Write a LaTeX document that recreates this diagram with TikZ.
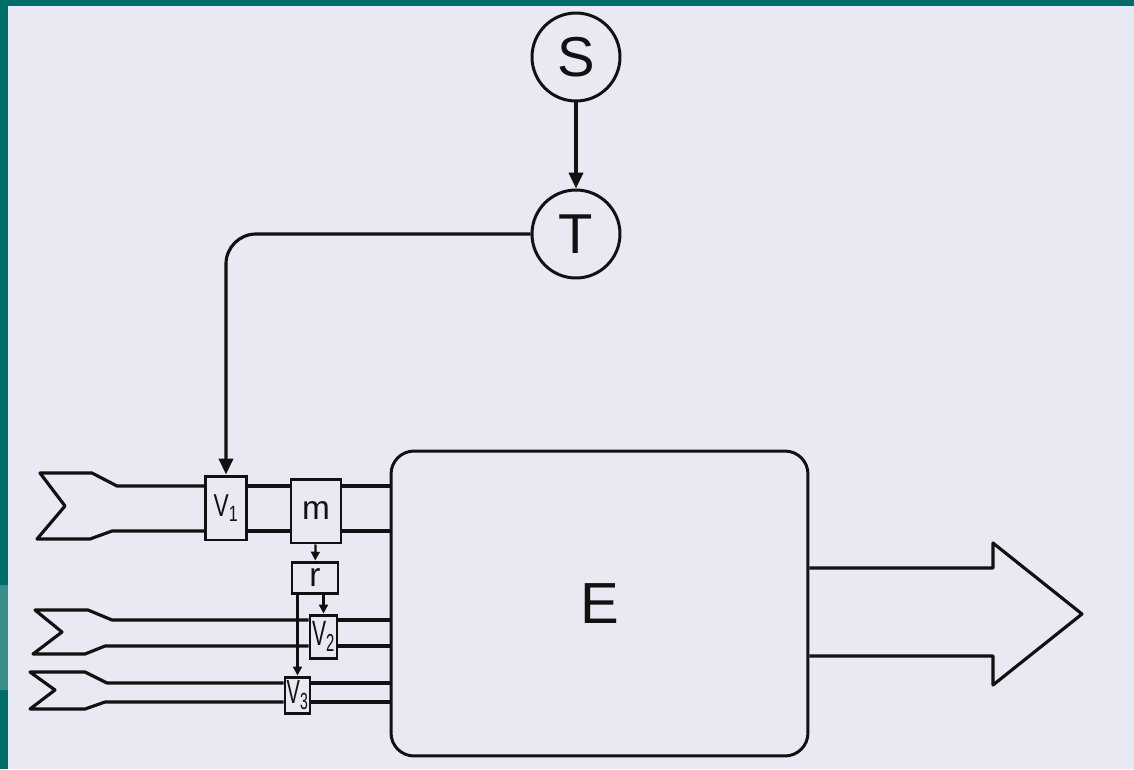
\documentclass[tikz,border=0pt]{standalone}
\usepackage{fontspec}
\setsansfont{Liberation Sans}
\usepackage{graphicx}
\usetikzlibrary{positioning,arrows.meta}

\definecolor{paper}{HTML}{E9E9F3}
\definecolor{frame}{HTML}{006D68}
\definecolor{framelight}{HTML}{3A8F88}
\definecolor{ink}{HTML}{111111}

\begin{document}
\begin{tikzpicture}[
    x=0.02cm, y=-0.02cm,
    font=\sffamily,
    color=ink,
    line width=1.7pt,
    unit/.style={
        draw,
        circle,
        minimum size=1.76cm,
        inner sep=0pt,
        font=\sffamily\fontsize{32}{36}\selectfont
    },
    box/.style={
        draw,
        fill=paper,
        inner sep=0pt
    },
    sig/.style={-{Triangle[length=9pt,width=8pt]}, line width=1.8pt},
    tick/.style={-{Triangle[length=5pt,width=5pt]}, line width=1.3pt},
    pipe/.style={line width=1.8pt, line join=round}
]

\fill[paper] (0,0) rectangle (1134,769);
\useasboundingbox (0,0) rectangle (1134,769);
\fill[frame] (0,0) rectangle (1134,6);
\fill[frame] (0,0) rectangle (8,769);
\fill[framelight] (0,585) rectangle (8,690);

\node[unit] (S) at (576,57) {S};
\node[unit] (T) at (576,234) {T};

\node[box, minimum width=0.82cm, minimum height=1.28cm, font=\sffamily\fontsize{18}{20}\selectfont] (V1) at (226,508) {\scalebox{0.72}[1]{V\textsubscript{1}}};
\node[box, minimum width=1.0cm, minimum height=1.28cm, font=\sffamily\fontsize{19}{22}\selectfont] (m) at (316,511) {m};
\node[box, minimum width=0.92cm, minimum height=0.62cm, font=\sffamily\fontsize{19}{22}\selectfont] (r) at (315,577.5) {r};
\node[box, minimum width=0.54cm, minimum height=0.86cm, font=\sffamily\fontsize{20}{22}\selectfont] (V2) at (323.5,636.5) {\scalebox{0.6}[1]{V\textsubscript{2}}};
\node[box, minimum width=0.5cm, minimum height=0.72cm, font=\sffamily\fontsize{19}{22}\selectfont] (V3) at (297.5,695) {\scalebox{0.6}[1]{V\textsubscript{3}}};

\node[draw, rounded corners=0.46cm, minimum width=8.34cm, minimum height=6.1cm, font=\sffamily\fontsize{33}{36}\selectfont] (E) at (599.5,603.5) {E};

\coordinate (a1) at (117,486);
\coordinate (b1) at (112,531);
\coordinate (a2) at (112,620);
\coordinate (b2) at (105,646);
\coordinate (a3) at (107,683);
\coordinate (b3) at (105,702);
\coordinate (o1) at (993,568);
\coordinate (o2) at (993,656);

\draw[pipe] (V1.west |- a1) -- (a1) -- (92,473) -- (40,473) -- (65,506) -- (37,539) -- (90,539) -- (b1) -- (V1.west |- b1);
\draw[pipe] (V1.east |- a1) -- (m.west |- a1);
\draw[pipe] (V1.east |- b1) -- (m.west |- b1);
\draw[pipe] (m.east |- a1) -- (E.west |- a1);
\draw[pipe] (m.east |- b1) -- (E.west |- b1);

\draw[pipe] (V2.west |- a2) -- (a2) -- (88,610) -- (35,610) -- (62,632) -- (33,654) -- (85,654) -- (b2) -- (V2.west |- b2);
\draw[pipe] (V2.east |- a2) -- (E.west |- a2);
\draw[pipe] (V2.east |- b2) -- (E.west |- b2);

\draw[pipe] (V3.west |- a3) -- (a3) -- (85,672) -- (30,672) -- (55,690) -- (30,709) -- (85,709) -- (b3) -- (V3.west |- b3);
\draw[pipe] (V3.east |- a3) -- (E.west |- a3);
\draw[pipe] (V3.east |- b3) -- (E.west |- b3);

\draw[pipe] (E.east |- o1) -- (o1) -- (993,543) -- (1082,614) -- (993,685) -- (o2) -- (E.east |- o2);

\draw[sig] (S) -- (T);
\draw[sig, rounded corners=0.6cm] (T) -| (V1);
\draw[tick] (m) -- (r);
\draw[tick] (V2.north |- r.south) -- (V2.north);
\draw[tick] (V3.north |- r.south) -- (V3.north);
\end{tikzpicture}
\end{document}
